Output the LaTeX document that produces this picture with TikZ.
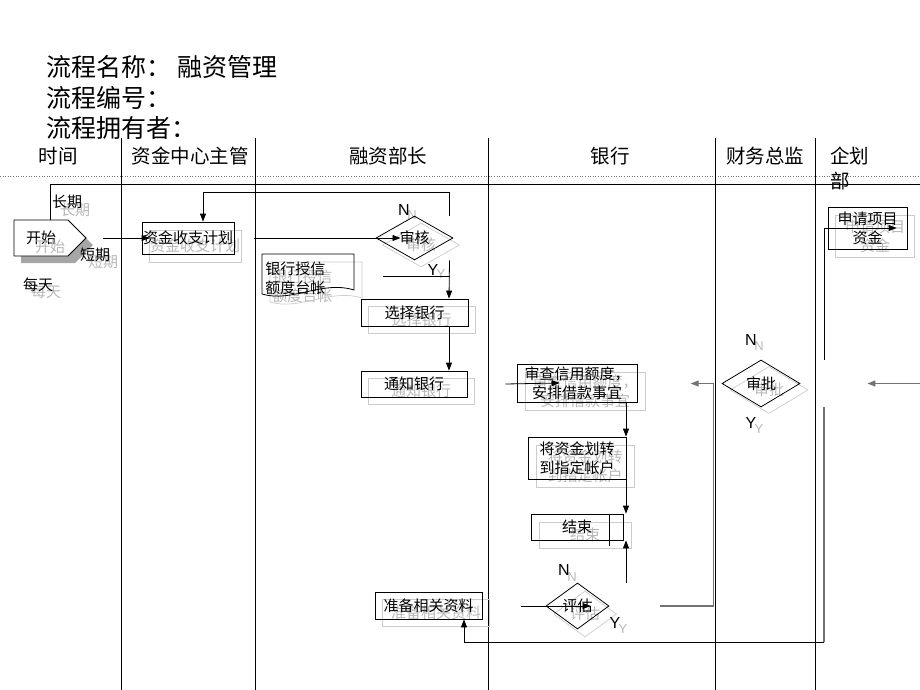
\documentclass[tikz,border=0pt]{standalone}
\usepackage{fontspec}
\setmainfont{Liberation Sans}
\newfontfamily\cjk{Noto Sans CJK SC}
\usetikzlibrary{arrows.meta,shapes.geometric,shapes.symbols,shadows}
\definecolor{ghostc}{gray}{0.72}
\definecolor{ghostl}{gray}{0.80}
\definecolor{lineg}{gray}{0.45}
\begin{document}
\begin{tikzpicture}[x=1pt,y=-1pt,line width=0.8pt,
  every node/.style={font=\cjk\fontsize{15}{19}\selectfont, inner sep=0pt},
  box/.style={draw, rectangle},
  dia/.style={draw, diamond},
  ghost/.style={draw=ghostl, text=ghostc, line width=0.7pt},
  ghosttxt/.style={text=ghostc},
  arr/.style={-{Triangle[length=8pt,width=6pt]}},
  garr/.style={draw=lineg, line width=1.2pt, -{Triangle[length=8pt,width=6pt]}},
  yn/.style={font=\fontsize{16}{16}\selectfont},
  yng/.style={font=\fontsize{13}{13}\selectfont, text=ghostc},
  hdr/.style={font=\cjk\fontsize{19.5}{22}\selectfont},
  ttl/.style={font=\cjk\fontsize{25}{30}\selectfont, anchor=west},
]
\useasboundingbox (0,0) rectangle (920,690);

% titles
\node[ttl] (t1) at (46,67) {流程名称：\hspace{6pt}融资管理};
\node[ttl] (t2) at (46,98) {流程编号：};
\node[ttl] (t3) at (46,128) {流程拥有者：};

% headers
\node[hdr] (h1) at (58,156) {时间};
\node[hdr] (h2) at (190,156) {资金中心主管};
\node[hdr] (h3) at (388,156) {融资部长};
\node[hdr] (h4) at (610,156) {银行};
\node[hdr] (h5) at (765,156) {财务总监};
\node[hdr, anchor=west] (h6) at (830,156) {企划};
\node[hdr, anchor=west] (h7) at (830,181) {部};

% lanes
\draw[dotted, black!55, line width=0.6pt] (0,176) -- (920,176);
\foreach \x in {121,255,488,715,815} \draw (\x,138) -- (\x,690);

% ---------- ghost copies ----------
\node[ghosttxt] (gl1) at (75,210) {长期};
\node[ghosttxt] (gl2) at (103,262) {短期};
\node[ghosttxt] (gl3) at (46,292) {每天};
\node[ghost, box, minimum width=92, minimum height=32] (gplan) at (195,246) {资金收支计划};
\node[ghost, dia, minimum width=77, minimum height=38] (gaud) at (421,245) {审核};
\node[ghost, box, minimum width=107, minimum height=27] (gsel) at (421.5,319.5) {选择银行};
\node[ghost, box, minimum width=106, minimum height=26] (gnot) at (421,391) {通知银行};
\node[ghost, box, minimum width=120, minimum height=38, align=center] (grev) at (585,391) {审查信用额度，\\安排借款事宜};
\node[ghost, box, minimum width=98, minimum height=42, align=center] (gtra) at (585,466) {将资金划转\\到指定帐户};
\node[ghost, box, minimum width=92, minimum height=26] (gend) at (585,535) {结束};
\node[ghost, dia, minimum width=63, minimum height=46] (geval) at (585,614) {评估};
\node[ghost, box, minimum width=107, minimum height=27] (gprep) at (436,613) {准备相关资料};
\node[ghost, dia, minimum width=78, minimum height=47] (gapr) at (769,390) {审批};
\node[ghost, box, minimum width=79, minimum height=42, align=center] (gapp) at (875,236) {申请项目\\资金};
\node[ghosttxt, anchor=west, align=left] (gledger) at (272,286) {银行授信\\额度台帐};
\draw[ghostl, line width=0.7pt] (270,262) -- (362,262) -- (362,298) .. controls (330,288) and (300,311) .. (270,302) -- cycle;
\node[yng] (gn1) at (412,215) {N};
\node[yng] (gy1) at (441,274) {Y};
\node[yng] (gn2) at (759,346) {N};
\node[yng] (gy2) at (759,429) {Y};
\node[yng] (gn3) at (572,577) {N};
\node[yng] (gy3) at (623,629) {Y};

% ---------- main shapes ----------
\node[draw, signal, signal to=east, signal pointer angle=90, minimum width=72, minimum height=36, fill=white,
      drop shadow={shadow xshift=7pt, shadow yshift=-7pt, fill=black!35, opacity=1}] (start) at (41,238) {开始};
\node[ghosttxt] (gstart) at (50,247) {开始};
\node (l1) at (67,202) {长期};
\node (l2) at (95,255) {短期};
\node (l3) at (38,285) {每天};

\node[box, minimum width=92, minimum height=32] (plan) at (188,238) {资金收支计划};
\node[dia, minimum width=77, minimum height=38] (aud) at (414.5,238) {审核};
\node[anchor=west, align=left] (ledger) at (265,278) {银行授信\\额度台帐};
\draw (262,254) -- (354,254) -- (354,290) .. controls (322,280) and (292,303) .. (262,294) -- cycle;
\node[box, minimum width=107, minimum height=27] (sel) at (414.5,312.5) {选择银行};
\node[box, minimum width=106, minimum height=26] (notify) at (414,384) {通知银行};
\node[box, minimum width=120, minimum height=38, align=center] (rev) at (577,383) {审查信用额度，\\安排借款事宜};
\node[box, minimum width=98, minimum height=42, align=center] (tra) at (577,458) {将资金划转\\到指定帐户};
\node[box, minimum width=92, minimum height=26] (end) at (577,527) {结束};
\draw ([xshift=-14pt]end.north east) -- ([xshift=-14pt,yshift=-6pt]end.south east);
\node[dia, minimum width=63, minimum height=46] (eval) at (577.5,606) {评估};
\node[box, minimum width=107, minimum height=27] (prep) at (428.5,605.5) {准备相关资料};
\node[dia, minimum width=78, minimum height=47] (apr) at (761,383.5) {审批};
\node[box, minimum width=79, minimum height=42, align=center] (app) at (867.5,228) {申请项目\\资金};

\node[yn] (n1) at (404,210) {N};
\node[yn] (y1) at (433,270) {Y};
\node[yn] (n2) at (751,340) {N};
\node[yn] (y2) at (751,423) {Y};
\node[yn] (n3) at (564,570) {N};
\node[yn] (y3) at (615,623) {Y};

% ---------- connectors ----------
\coordinate (lt) at (50,184);
\draw ([xshift=9pt]start.north) -- (lt) -- (920,184);
\draw[arr] ([xshift=16pt]start.east) -- ([xshift=8pt]plan.west);
\draw[arr] ([xshift=20pt]plan.east) -- ([xshift=-14pt]aud.center);
\draw[arr] ([xshift=35pt]aud.north) -- ++(0,-23) -| ([xshift=15pt]plan.north);
\draw[arr] ([xshift=35pt]aud.south) -- ([xshift=34.5pt]sel.north);
\coordinate (yj) at (383,276);
\draw (yj) -- (449.5,276);
\draw[arr] ([xshift=34.5pt]sel.south) -- ([xshift=35pt]notify.north);
\draw[arr] ([xshift=38pt]notify.east) -- ([xshift=43pt]rev.west);
\draw[arr] ([xshift=49pt]rev.south) -- ([xshift=49pt]tra.north);
\draw[arr] ([xshift=49pt]tra.south) -- ([xshift=49pt]end.north);
\coordinate (ee) at (626,583);
\draw[arr] (ee) -- ([xshift=49pt]end.south);
\draw[arr] ([xshift=-25pt]eval.west) -- ([xshift=13pt]eval.center);
\draw[garr] ([xshift=51pt]eval.east) -- ++(53,0) |- ([xshift=-31pt]apr.west);
\coordinate (re) at (920,383.5);
\draw[garr] (re) -- ([xshift=67pt]apr.east);
\coordinate (ap) at (824,360);
\draw[arr] (ap) |- ([xshift=69pt]app.west);
\coordinate (bp) at (824,407);
\coordinate (bc) at (824,642);
\draw[draw=lineg, line width=1.2pt] (bp) -- (bc);
\draw[arr] (bc) -| ([xshift=35.5pt]prep.south);
\end{tikzpicture}
\end{document}
